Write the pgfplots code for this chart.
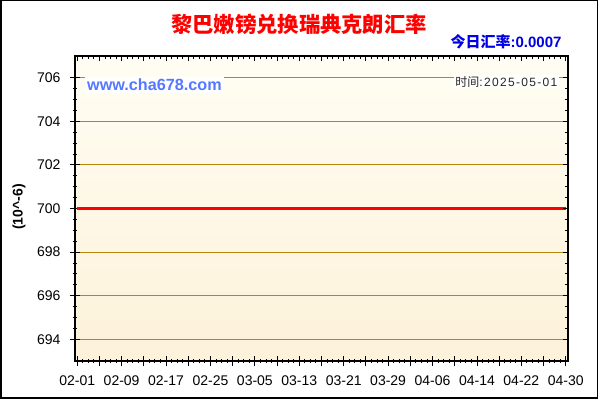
\documentclass[border=0pt]{standalone}
\usepackage{pgfplots}
\pgfplotsset{compat=1.18}
\usepackage{fontspec}
\setmainfont{Liberation Sans}
\newfontfamily\cjk{Noto Sans CJK SC}
\newfontfamily\spaced{Liberation Sans}[LetterSpace=11]

\definecolor{gridc}{RGB}{184,134,11}
\definecolor{bgtop}{RGB}{255,253,243}
\definecolor{bgbot}{RGB}{253,242,218}
\definecolor{sitec}{RGB}{85,120,255}
\definecolor{ratec}{RGB}{0,0,230}

% LBP/SEK rate (x 10^-6), day index from 02-01
\pgfplotstableread{
day rate
0 700
8 700
16 700
24 700
32 700
40 700
48 700
56 700
64 700
72 700
80 700
88 700
}\ratedata

\begin{document}
\begin{tikzpicture}[x=1pt,y=1pt]
\useasboundingbox (0,0) rectangle (600,400);
\fill[white] (0,0) rectangle (600,400);
\draw[line width=1.5pt] (0.75,2) rectangle (597.5,399.25);

\begin{axis}[
  at={(75pt,39pt)}, anchor=south west, scale only axis,
  width=493pt, height=305pt,
  xmin=-0.4, xmax=88.4, ymin=693, ymax=707,
  axis background/.style={top color=bgtop, bottom color=bgbot},
  axis line style={line width=1.2pt},
  xtick={0,4,...,88},
  xticklabels={02-01,,02-09,,02-17,,02-25,,03-05,,03-13,,03-21,,03-29,,04-06,,04-14,,04-22,,04-30},
  minor x tick num=3,
  ytick={694,696,...,706},
  minor y tick num=3,
  tick pos=left, tick align=center,
  major tick length=10pt, minor tick length=4pt,
  tick style={black, line width=0.9pt},
  ymajorgrids, grid style={gridc, line width=0.9pt},
  /pgf/number format/assume math mode=true,
  ticklabel style={font=\fontsize{14}{15}\selectfont},
  xticklabel style={yshift=-6.5pt},
  yticklabel style={xshift=-6pt, /pgf/number format/.cd, fixed, 1000 sep={}},
]
\addplot[red, line width=2.6pt] table[x=day, y=rate] {\ratedata};
\end{axis}

\begin{axis}[
  at={(75pt,39pt)}, anchor=south west, scale only axis,
  width=493pt, height=305pt,
  xmin=-0.4, xmax=88.4, ymin=693, ymax=707,
  axis line style={line width=1.2pt},
  xtick={0,4,...,88}, minor x tick num=3,
  ytick={694,696,...,706}, minor y tick num=3,
  xticklabels={}, yticklabels={},
  tick pos=right, tick align=inside,
  major tick length=5pt, minor tick length=3pt,
  tick style={black, line width=0.9pt},
]
\addplot[draw=none] coordinates {(0,700)};
\end{axis}

\node[text=red, font=\cjk\bfseries\fontsize{21.3}{23}\selectfont] at (299,376) {黎巴嫩镑兑换瑞典克朗汇率};
\node[anchor=east, text=ratec, font=\bfseries\fontsize{15}{16}\selectfont] at (565,358) {{\cjk 今日汇率}:0.0007};
\node[anchor=west, fill=white, text=sitec, inner sep=2pt, font=\bfseries\fontsize{16.2}{17}\selectfont] at (85,315) {www.cha678.com};
\node[anchor=east, fill=white, text=black!85, inner sep=1.5pt, font=\fontsize{12}{13}\selectfont] at (559,318.5) {{\cjk 时间}{\spaced :2025-05-01}};
\node[rotate=90, font=\bfseries\fontsize{14}{15}\selectfont] at (19,193) {(10\textasciicircum-6)};
\end{tikzpicture}
\end{document}
